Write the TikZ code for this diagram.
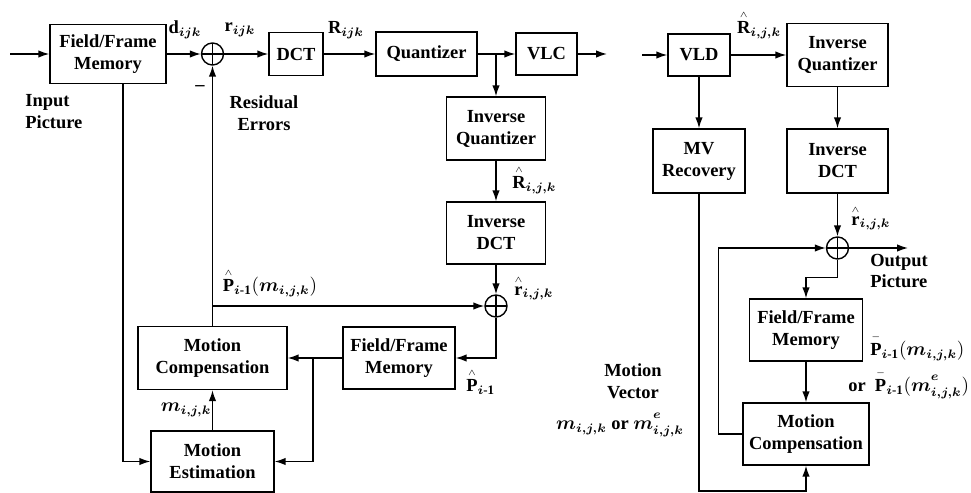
\documentclass[tikz,border=0pt]{standalone}
\usepackage{amsmath}
\usepackage{fontspec}
\setmainfont{Liberation Serif}
\usetikzlibrary{arrows.meta}
\newcommand{\capHat}[1]{\overset{\scriptscriptstyle\wedge}{#1}}
\newcommand{\capBar}[1]{\overset{\scriptscriptstyle -}{#1}}
\newcommand{\supE}{\raisebox{2pt}{$\scriptstyle\boldsymbol{e}$}}
\tikzset{
  blockBox/.style={draw, line width=0.8pt, align=center, inner sep=1pt, font=\fontsize{10.5}{12.5}\selectfont\bfseries},
  sumNode/.style={draw, circle, line width=0.8pt, minimum size=0.44cm, inner sep=0pt,
    path picture={\draw[line width=0.8pt] (path picture bounding box.north) -- (path picture bounding box.south)
      (path picture bounding box.west) -- (path picture bounding box.east);}},
  flowArrow/.style={line width=0.8pt, -{Latex[length=2.2mm,width=1.5mm]}},
  sigLabel/.style={inner sep=0pt, align=center, font=\fontsize{10.5}{12.5}\selectfont\bfseries}
}
\begin{document}
\begin{tikzpicture}[x=0.02cm, y=-0.02cm]
  \useasboundingbox (0,0) rectangle (971,493);
  \node[blockBox, minimum width=2.32cm, minimum height=1.18cm] (ffmEnc) at (108,54) {Field/Frame\\Memory};
  \node[sumNode] (sumEnc) at (212.5,54) {};
  \node[blockBox, minimum width=1.08cm, minimum height=0.86cm] (dctEnc) at (296,54) {DCT};
  \node[blockBox, minimum width=2.02cm, minimum height=0.88cm] (quantEnc) at (426.5,54) {Quantizer};
  \node[blockBox, minimum width=1.22cm, minimum height=0.84cm] (vlcEnc) at (546.5,54) {VLC};
  \node[blockBox, minimum width=1.98cm, minimum height=1.26cm] (iqEnc) at (496,128.5) {Inverse\\Quantizer};
  \node[blockBox, minimum width=1.98cm, minimum height=1.24cm] (idctEnc) at (496,233) {Inverse\\DCT};
  \node[sumNode] (sumRec) at (496,306) {};
  \node[blockBox, minimum width=2.24cm, minimum height=1.24cm] (ffmRec) at (399,358) {Field/Frame\\Memory};
  \node[blockBox, minimum width=2.98cm, minimum height=1.26cm] (mcEnc) at (212.5,358) {Motion\\Compensation};
  \node[blockBox, minimum width=2.46cm, minimum height=1.22cm] (meEnc) at (212.5,461.5) {Motion\\Estimation};

  \node[blockBox, minimum width=1.24cm, minimum height=0.84cm] (vldDec) at (699,55) {VLD};
  \node[blockBox, minimum width=2.02cm, minimum height=1.26cm] (iqDec) at (837.5,55) {Inverse\\Quantizer};
  \node[blockBox, minimum width=1.84cm, minimum height=1.28cm] (mvrDec) at (699,161) {MV\\Recovery};
  \node[blockBox, minimum width=2.02cm, minimum height=1.28cm] (idctDec) at (837.5,161) {Inverse\\DCT};
  \node[sumNode] (sumDec) at (837.5,248) {};
  \node[blockBox, minimum width=2.26cm, minimum height=1.24cm] (ffmDec) at (806,330) {Field/Frame\\Memory};
  \node[blockBox, minimum width=2.52cm, minimum height=1.24cm] (mcDec) at (806,434) {Motion\\Compensation};

  \coordinate (inEnc) at (10,54);
  \coordinate (splitQ) at (496,54);
  \coordinate (outEnc) at (607,54);
  \coordinate (splitMem) at (313,358);
  \coordinate (tapPred) at (212.5,306);
  \coordinate (inDec) at (642,55);
  \coordinate (outDec) at (908,248);
  \coordinate (baseMv) at (699,491);

  \draw[flowArrow] (inEnc) -- (ffmEnc);
  \draw[flowArrow] (ffmEnc) -- (sumEnc);
  \draw[flowArrow] (sumEnc) -- (dctEnc);
  \draw[flowArrow] (dctEnc) -- (quantEnc);
  \draw[flowArrow] (quantEnc) -- (splitQ) -- (vlcEnc);
  \draw[flowArrow] (vlcEnc) -- (outEnc);
  \draw[flowArrow] (splitQ) -- (iqEnc);
  \draw[flowArrow] (iqEnc) -- (idctEnc);
  \draw[flowArrow] (idctEnc) -- (sumRec);
  \draw[flowArrow] (sumRec) |- (ffmRec);
  \draw[flowArrow] (ffmRec) -- (mcEnc);
  \draw[flowArrow] (splitMem) |- (meEnc);
  \draw[flowArrow] (meEnc) -- (mcEnc);
  \draw[flowArrow] (mcEnc) -- (sumEnc);
  \draw[flowArrow] (tapPred) -- (sumRec);
  \draw[flowArrow] ([xshift=0.3cm]ffmEnc.south) |- (meEnc);

  \draw[flowArrow] (inDec) -- (vldDec);
  \draw[flowArrow] (vldDec) -- (iqDec);
  \draw[flowArrow] (vldDec) -- (mvrDec);
  \draw[flowArrow] (iqDec) -- (idctDec);
  \draw[flowArrow] (idctDec) -- (sumDec);
  \draw[flowArrow] (sumDec) -- (outDec);
  \draw[flowArrow] (mcDec.west) -- ++(-24,0) |- (sumDec);
  \draw[flowArrow] (sumDec.south) -- ++(0,18) -| (ffmDec);
  \draw[flowArrow] (ffmDec) -- (mcDec);
  \draw[flowArrow] (mvrDec) -- (baseMv) -| (mcDec);

  \node[sigLabel, align=left, anchor=west] (lblIn) at (25,112) {Input\\Picture};
  \node[sigLabel] (lblD) at (185,30) {$\mathbf{d}_{\boldsymbol{ijk}}$};
  \node[sigLabel] (lblR) at (240,30) {$\mathbf{r}_{\boldsymbol{ijk}}$};
  \node[sigLabel] (lblBigR) at (346,30) {$\mathbf{R}_{\boldsymbol{ijk}}$};
  \node[sigLabel] (lblMinus) at (200,88) {--};
  \node[sigLabel] (lblRes) at (264,113) {Residual\\Errors};
  \node[sigLabel, anchor=west] (lblRhatEnc) at (512,180) {$\capHat{\mathbf{R}}_{\boldsymbol{i,j,k}}$};
  \node[sigLabel, anchor=west] (lblrhatEnc) at (514,288) {$\capHat{\mathbf{r}}_{\boldsymbol{i,j,k}}$};
  \node[sigLabel] (lblPred) at (270,283) {$\capHat{\mathbf{P}}_{\boldsymbol{i}\textbf{-}\mathbf{1}}(\boldsymbol{m}_{\boldsymbol{i,j,k}})$};
  \node[sigLabel, anchor=west] (lblPrev) at (466,382) {$\capHat{\mathbf{P}}_{\boldsymbol{i}\textbf{-}\mathbf{1}}$};
  \node[sigLabel] (lblMv) at (186,410) {$\boldsymbol{m}_{\boldsymbol{i,j,k}}$};

  \node[sigLabel] (lblRhatDec) at (759,25) {$\capHat{\mathbf{R}}_{\boldsymbol{i,j,k}}$};
  \node[sigLabel, anchor=west] (lblrhatDec) at (851,218) {$\capHat{\mathbf{r}}_{\boldsymbol{i,j,k}}$};
  \node[sigLabel, align=left, anchor=west] (lblOut) at (870,271) {Output\\Picture};
  \node[sigLabel] (lblVec) at (633,381) {Motion\\Vector};
  \node[sigLabel] (lblVecM) at (620,425) {$\boldsymbol{m}_{\boldsymbol{i,j,k}}$ or $\boldsymbol{m}^{\supE}_{\boldsymbol{i,j,k}}$};
  \node[sigLabel, anchor=west] (lblPbarA) at (870,346) {$\capBar{\mathbf{P}}_{\boldsymbol{i}\textbf{-}\mathbf{1}}(\boldsymbol{m}_{\boldsymbol{i,j,k}})$};
  \node[sigLabel, anchor=west] (lblPbarB) at (848,383) {or\ \ $\capBar{\mathbf{P}}_{\boldsymbol{i}\textbf{-}\mathbf{1}}(\boldsymbol{m}^{\supE}_{\boldsymbol{i,j,k}})$};
\end{tikzpicture}
\end{document}
